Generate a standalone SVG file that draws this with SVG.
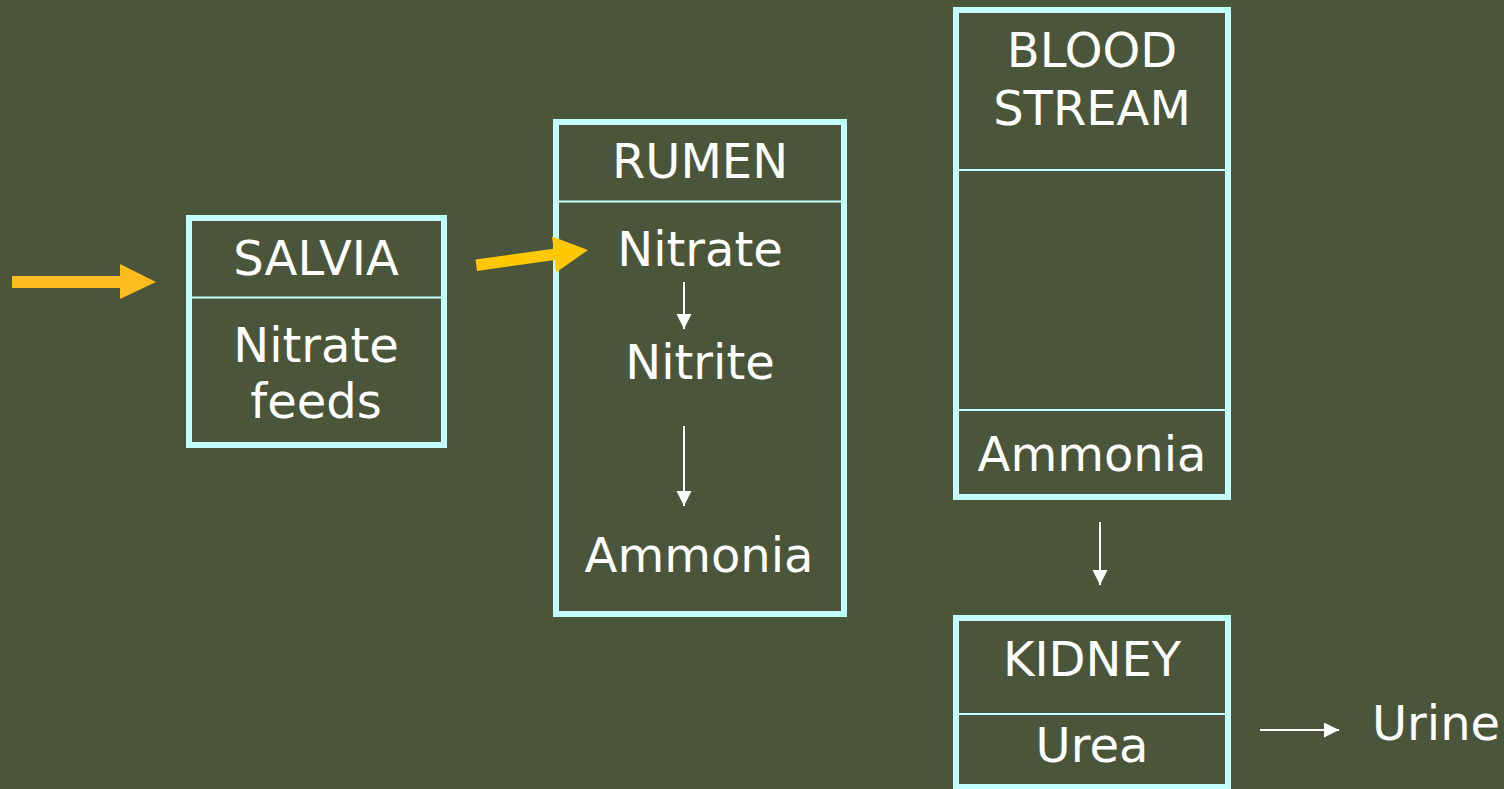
<svg xmlns="http://www.w3.org/2000/svg" width="1504" height="789" viewBox="0 0 1504 789">
<style>
.box{fill:none;stroke:#C4FFFF;stroke-width:6}
.div{stroke:#C4FFFF;stroke-width:2}
.t{font-family:"DejaVu Sans",Verdana,sans-serif;font-size:48px;fill:#FFFFFF;text-anchor:middle}
.w{stroke:#FFFFFF;stroke-width:2;fill:none}
</style>
<defs>
<marker id="wh" markerUnits="userSpaceOnUse" markerWidth="16" markerHeight="16" refX="15" refY="7.5" orient="auto">
<polygon points="0,0 15,7.5 0,15" fill="#FFFFFF"/>
</marker>
</defs>
<rect width="1504" height="789" fill="#4B553B"/>
<g id="salvia">
<rect class="box" x="189" y="218" width="255" height="227"/>
<line class="div" x1="189" y1="297.5" x2="444" y2="297.5"/>
<text class="t" x="316" y="275">SALVIA</text>
<text class="t" x="316" y="362">Nitrate</text>
<text class="t" x="316" y="418">feeds</text>
</g>
<g id="rumen">
<rect class="box" x="556" y="122" width="288" height="492"/>
<line class="div" x1="556" y1="201.5" x2="844" y2="201.5"/>
<text class="t" x="700" y="178">RUMEN</text>
<text class="t" x="700" y="266">Nitrate</text>
<text class="t" x="700" y="379">Nitrite</text>
<text class="t" x="699" y="572">Ammonia</text>
</g>
<g id="bloodstream">
<rect class="box" x="956" y="10" width="272" height="487"/>
<line class="div" x1="956" y1="170" x2="1228" y2="170"/>
<line class="div" x1="956" y1="410" x2="1228" y2="410"/>
<text class="t" x="1092" y="67">BLOOD</text>
<text class="t" x="1092" y="125">STREAM</text>
<text class="t" x="1092" y="471">Ammonia</text>
</g>
<g id="kidney">
<rect class="box" x="956" y="618" width="272" height="169"/>
<line class="div" x1="956" y1="714" x2="1228" y2="714"/>
<text class="t" x="1092" y="676">KIDNEY</text>
<text class="t" x="1092" y="762">Urea</text>
</g>
<g id="urine">
<text class="t" x="1436" y="740">Urine</text>
</g>
<g id="connectors">
<polygon points="12,276 120,276 120,264 156,282 120,299 120,288 12,288" fill="#FDBB1D"/>
<polygon points="475.5,259.5 553.5,248.8 552,236.5 588,250 556,272.5 554.8,260 477,271" fill="#FFC800"/>
<line class="w" x1="684" y1="282" x2="684" y2="329" marker-end="url(#wh)"/>
<line class="w" x1="684" y1="426" x2="684" y2="506" marker-end="url(#wh)"/>
<line class="w" x1="1100" y1="522" x2="1100" y2="585" marker-end="url(#wh)"/>
<line class="w" x1="1260" y1="730" x2="1339" y2="730" marker-end="url(#wh)"/>
</g>
</svg>
